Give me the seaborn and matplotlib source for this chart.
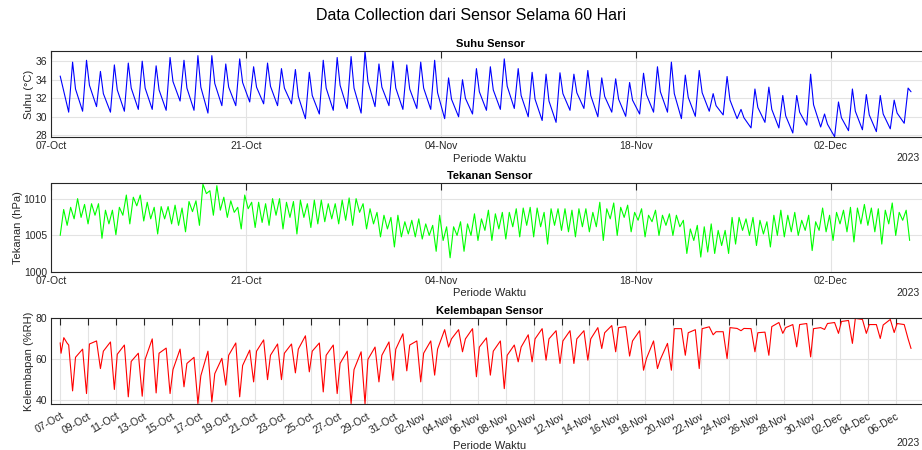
import numpy as np
import pandas as pd
import matplotlib
matplotlib.use("Agg")
import matplotlib.pyplot as plt
import seaborn as sns

# ---------------- data ----------------
# x axis unit: days since 07-Oct-2023 00:00
start_day = 0.66

# Temperature: per day k (08-Oct + k): morning trough (06:30), peak (13:15), evening (18:15)
temp_start = [34.4]
temp_trough = [30.5, 30.6, 31.1, 30.5, 30.6, 30.8, 30.8, 30.7, 31.7, 30.7,
               30.4, 31.2, 31.2, 31.6, 31.4, 31.2, 31.4, 29.8, 30.3, 30.7,
               30.9, 30.4, 31.1, 31.2, 30.8, 30.9, 30.8, 29.8, 30.0, 30.3,
               30.7, 30.8, 30.9, 30.0, 29.6, 29.4, 30.7, 30.9, 30.0, 30.5,
               30.05, 30.3, 30.5, 30.5, 29.8, 30.05, 30.6, 30.2, 29.8, 28.8,
               29.4, 28.8, 28.25, 29.1, 28.9, 27.85, 28.5, 28.6, 28.4, 28.7,
               29.3]
temp_peak = [35.9, 36.1, 34.9, 35.6, 35.8, 36.0, 35.5, 36.4, 36.1, 36.6,
             36.6, 35.7, 36.25, 35.4, 35.8, 35.2, 35.1, 34.8, 36.1, 36.4,
             36.5, 37.1, 35.7, 36.0, 35.6, 35.9, 36.1, 34.2, 34.0, 35.2,
             35.4, 36.25, 35.2, 34.8, 34.6, 34.75, 34.6, 35.0, 34.2, 34.1,
             33.7, 34.7, 35.4, 35.9, 34.5, 35.0, 32.5, 34.35, 30.8, 33.0,
             33.2, 32.3, 32.3, 34.6, 30.3, 31.6, 33.0, 32.4, 32.3, 31.8,
             33.1]
temp_eve = [33.0, 33.4, 32.5, 32.9, 33.1, 33.1, 32.9, 33.8, 33.1, 33.2,
            33.6, 33.2, 33.7, 33.2, 33.3, 33.1, 32.2, 32.3, 33.1, 33.4,
            33.1, 33.8, 33.2, 33.1, 33.0, 33.1, 32.6, 31.9, 32.0, 32.7,
            32.9, 33.3, 32.3, 31.9, 31.7, 32.5, 32.6, 32.3, 32.2, 31.9,
            31.8, 32.4, 32.7, 32.5, 32.1, 32.6, 31.2, 31.8, 29.9, 31.0,
            30.8, 30.1, 30.5, 31.3, 29.2, 29.9, 30.6, 30.2, 30.3, 30.4,
            32.7]

# Pressure: readings every 6 hours from the start of the record (hPa)
pressure = [
    1005.0, 1008.6, 1006.4, 1008.9, 1007.3, 1010.1, 1007.5, 1009.3, 1006.6, 1009.4,
    1007.8, 1009.4, 1004.6, 1008.5, 1006.6, 1008.5, 1005.1, 1008.9, 1007.8, 1010.6,
    1006.6, 1010.3, 1009.1, 1010.6, 1007.0, 1009.6, 1007.3, 1008.9, 1005.2, 1009.0,
    1007.3, 1009.0, 1006.6, 1009.2, 1006.4, 1008.8, 1005.5, 1009.7, 1008.3, 1009.8,
    1006.4, 1012.1, 1010.8, 1011.2, 1007.8, 1011.9, 1008.5, 1010.3, 1007.5, 1009.8,
    1008.2, 1008.9, 1005.9, 1010.6, 1008.7, 1009.6, 1006.1, 1009.6, 1006.8, 1009.4,
    1006.4, 1010.1, 1007.8, 1010.1, 1005.9, 1009.6, 1007.5, 1009.7, 1005.2, 1009.9,
    1007.5, 1009.4, 1006.1, 1009.9, 1006.6, 1009.9, 1006.9, 1009.4, 1007.3, 1009.4,
    1006.6, 1009.9, 1007.1, 1010.2, 1006.4, 1010.1, 1008.2, 1009.4, 1005.9, 1008.7,
    1006.6, 1008.2, 1004.8, 1007.8, 1005.9, 1007.5, 1003.4, 1007.8, 1004.8, 1006.9,
    1005.2, 1007.1, 1004.8, 1007.3, 1004.5, 1006.6, 1005.0, 1006.4, 1002.8, 1007.8,
    1004.3, 1006.2, 1001.9, 1006.2, 1005.0, 1006.9, 1002.8, 1006.6, 1005.0, 1008.0,
    1004.3, 1007.3, 1005.7, 1008.5, 1004.3, 1008.0, 1005.9, 1008.2, 1004.5, 1008.2,
    1006.2, 1008.7, 1004.8, 1008.8, 1006.4, 1008.9, 1004.8, 1008.8, 1006.2, 1008.2,
    1003.8, 1008.7, 1006.4, 1008.7, 1005.7, 1008.7, 1005.5, 1008.5, 1004.8, 1008.7,
    1006.2, 1008.7, 1005.5, 1008.2, 1006.2, 1009.6, 1004.3, 1008.7, 1007.3, 1009.5,
    1005.0, 1008.9, 1007.5, 1009.2, 1005.5, 1008.2, 1007.1, 1008.7, 1004.8, 1007.8,
    1006.9, 1008.5, 1005.0, 1007.8, 1006.4, 1008.0, 1005.0, 1007.8, 1006.2, 1007.1,
    1002.5, 1005.9, 1004.3, 1006.4, 1002.0, 1006.2, 1002.7, 1006.6, 1002.5, 1005.7,
    1003.6, 1005.7, 1002.5, 1007.5, 1003.8, 1007.5, 1005.7, 1007.3, 1005.0, 1007.5,
    1003.6, 1007.1, 1005.2, 1006.9, 1003.4, 1007.8, 1005.0, 1008.5, 1004.8, 1007.8,
    1005.5, 1008.2, 1005.0, 1007.1, 1005.7, 1007.8, 1002.9, 1006.9, 1005.7, 1008.8,
    1005.5, 1007.8, 1004.3, 1008.2, 1006.6, 1008.5, 1005.5, 1008.9, 1004.1, 1008.8,
    1006.6, 1009.3, 1006.4, 1008.8, 1005.5, 1008.7, 1003.8, 1008.5, 1006.6, 1009.5,
    1005.0, 1008.2, 1007.1, 1008.5, 1004.3]

# Humidity: first hours, then per day k: before drop (06:30), minimum (13:15), evening (18:00)
hum_start = [68.1, 63.0, 70.6, 68.0]
hum_pre = [67, 65, 69, 68.5, 67, 63, 70, 65.5, 65, 61,
           64, 60.5, 68, 64.5, 69.5, 67.5, 67.5, 71.5, 68, 67,
           64, 63.7, 66, 68.5, 72.5, 69, 69, 74.5, 74.5, 75,
           70.5, 69, 67, 72, 75, 74, 74, 74, 75.5, 76.5,
           76, 74, 69, 67.8, 75, 74.5, 75.9, 73.5, 75.1, 75,
           73.3, 78, 77, 77.5, 75.5, 78, 79, 79.5, 77, 79.5,
           77]
hum_min = [44.6, 43.3, 55.5, 45.3, 41.7, 42.0, 43.6, 43.3, 46.6, 38.4,
           39.2, 47.4, 41.7, 49.0, 50.1, 50.1, 53.4, 53.9, 44.1, 43.3,
           38.4, 38.3, 49.0, 49.8, 54.4, 49.0, 52.3, 66.0, 63.7, 51.5,
           52.3, 45.7, 58.8, 58.8, 59.6, 58.0, 58.0, 59.6, 65.3, 63.7,
           61.6, 54.7, 55.5, 54.7, 62.0, 55.5, 72.0, 60.4, 74.0, 63.7,
           62.0, 72.7, 66.1, 61.2, 74.6, 72.7, 67.8, 72.7, 70.2, 73.1,
           70.0]
hum_eve = [61, 67.5, 64, 62.5, 59, 60, 63, 55, 58, 52,
           53, 62, 57, 64, 62, 63, 65, 64, 62, 58,
           55, 60, 62, 65, 67, 63, 65, 70, 70, 66,
           64, 62, 66, 70, 70, 69, 70, 70, 73, 75.5,
           69, 60.4, 60, 75, 73, 75, 73.5, 75.5, 75.1, 73,
           76, 75.5, 77, 75, 77.5, 78.5, 80, 77, 76.8, 77.5,
           65.3]

top_tick_days = [0, 14, 28, 42, 56]
top_tick_labels = ["07-Oct", "21-Oct", "04-Nov", "18-Nov", "02-Dec"]
bottom_tick_labels = ["07-Oct", "09-Oct", "11-Oct", "13-Oct", "15-Oct", "17-Oct",
                      "19-Oct", "21-Oct", "23-Oct", "25-Oct", "27-Oct", "29-Oct",
                      "31-Oct", "02-Nov", "04-Nov", "06-Nov", "08-Nov", "10-Nov",
                      "12-Nov", "14-Nov", "16-Nov", "18-Nov", "20-Nov", "22-Nov",
                      "24-Nov", "26-Nov", "28-Nov", "30-Nov", "02-Dec", "04-Dec",
                      "06-Dec"]

# ---------------- build tables ----------------
ndays = len(temp_peak)
day_base = np.arange(ndays)[:, None] + 1.0
t_temp = np.concatenate([[start_day], (day_base + np.array([0.27, 0.55, 0.76])).ravel()])
v_temp = np.concatenate([temp_start, np.column_stack([temp_trough, temp_peak, temp_eve]).ravel()])
df_temp = pd.DataFrame({"t": t_temp, "v": v_temp})

t_pres = start_day + 0.25 * np.arange(len(pressure))
df_pres = pd.DataFrame({"t": t_pres, "v": pressure})

t_hum = np.concatenate([[start_day, 0.72, 0.92, 1.15],
                        (day_base + np.array([0.27, 0.55, 0.76])).ravel()])
v_hum = np.concatenate([hum_start, np.column_stack([hum_pre, hum_min, hum_eve]).ravel()])
df_hum = pd.DataFrame({"t": t_hum, "v": v_hum})

# ---------------- styling ----------------
sns.set_theme(style="white")
plt.rcParams["font.family"] = ["Liberation Sans", "DejaVu Sans"]
dark = "#262626"

fig = plt.figure(figsize=(9.22, 4.5), dpi=100)
W, H = 922.0, 450.0
left, right = 51.0, 929.0

def make_ax(top_px, bot_px):
    return fig.add_axes([left / W, 1 - bot_px / H, (right - left) / W, (bot_px - top_px) / H])

ax1 = make_ax(51, 137)
ax2 = make_ax(183.5, 271.5)
ax3 = make_ax(318, 404)

sns.lineplot(data=df_temp, x="t", y="v", ax=ax1, color="#0000ff", lw=0.8, estimator=None, sort=False)
sns.lineplot(data=df_pres, x="t", y="v", ax=ax2, color="#00ff00", lw=0.8, estimator=None, sort=False)
sns.lineplot(data=df_hum, x="t", y="v", ax=ax3, color="#ff0000", lw=0.8, estimator=None, sort=False)

specs = [
    (ax1, "Suhu Sensor", "Suhu (°C)", (27.82, 37.1), [28, 30, 32, 34, 36], -0.019),
    (ax2, "Tekanan Sensor", "Tekanan (hPa)", (1000, 1012.2), [1000, 1005, 1010], -0.032),
    (ax3, "Kelembapan Sensor", "Kelembapan (%RH)", (38.2, 80.2), [40, 60, 80], -0.019),
]
for ax, title, ylab, ylim, yticks, ylx in specs:
    ax.set_xlim(0, 63.05)
    ax.set_ylim(*ylim)
    ax.set_yticks(yticks)
    ax.set_title(title, fontsize=8, fontweight="bold", color="black", pad=3)
    ax.set_ylabel(ylab, fontsize=8, color=dark)
    ax.yaxis.set_label_coords(ylx, 0.5)
    ax.set_xlabel("Periode Waktu", fontsize=8, color=dark, labelpad=2)
    ax.grid(True, color="#e3e3e3", lw=0.8)
    ax.set_axisbelow(True)
    ax.tick_params(direction="in", length=5, width=0.8, top=True, right=True,
                   color=dark, labelcolor=dark, labelsize=7.5, pad=3)
    for sp in ax.spines.values():
        sp.set_visible(True)
        sp.set_color(dark)
        sp.set_linewidth(0.8)

for ax in (ax1, ax2):
    ax.set_xticks(top_tick_days)
    ax.set_xticklabels(top_tick_labels)

bottom_ticks = start_day + 2 * np.arange(len(bottom_tick_labels))
ax3.set_xticks(bottom_ticks)
ax3.set_xticklabels(bottom_tick_labels, rotation=30, ha="right", rotation_mode="anchor")
ax3.tick_params(axis="x", pad=5)
ax3.xaxis.labelpad = 3

for ypx in (158, 293, 443):
    fig.text(920 / W, 1 - ypx / H, "2023", ha="right", va="center", fontsize=7.5, color=dark)

fig.text(471 / W, 1 - 16 / H, "Data Collection dari Sensor Selama 60 Hari",
         ha="center", va="center", fontsize=11.5, color="black")

fig.savefig("out.png", dpi=100, facecolor="white")
